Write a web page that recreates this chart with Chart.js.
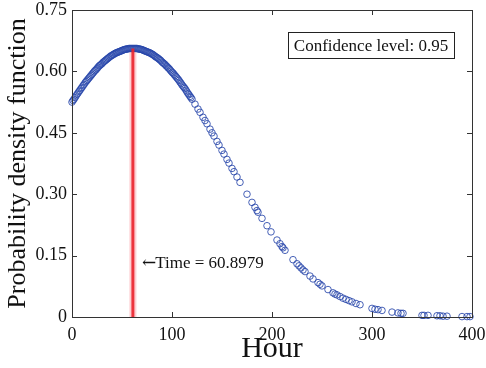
<!DOCTYPE html>
<html>
<head>
<meta charset="utf-8">
<script src="https://cdn.jsdelivr.net/npm/chart.js@4.4.0/dist/chart.umd.min.js"></script>
<style>
  html, body { margin: 0; padding: 0; background: #fff; }
  #wrap { width: 486px; height: 368px; }
</style>
</head>
<body>
<div id="wrap"><canvas id="pdf-chart" width="486" height="368"></canvas></div>
<script>
// Точки плотности вероятности (час, значение)
const hours = [
    0, 1, 2, 3, 4, 5, 6, 7, 8, 9, 10, 11, 12, 13, 14, 15, 16, 17, 18, 19,
    20, 21, 22, 23, 24, 25, 26, 27, 28, 29, 30, 31, 32, 33, 34, 35, 36, 37, 38, 39,
    40, 41, 42, 43, 44, 45, 46, 47, 48, 49, 50, 51, 52, 53, 54, 55, 56, 57, 58, 59,
    60, 61, 62, 63, 64, 65, 66, 67, 68, 69, 70, 71, 72, 73, 74, 75, 76, 77, 78, 79,
    80, 81, 82, 83, 84, 85, 86, 87, 88, 89, 90, 91, 92, 93, 94, 95, 96, 97, 98, 99,
    100, 101, 102, 103, 104, 105, 106, 107, 108, 109, 110, 111, 112, 113, 114, 115, 116, 117, 118, 119,
    120, 123, 126, 128, 131, 133, 135, 138, 140, 142, 145, 147, 150, 152, 155, 157, 160, 162, 165, 168,
    175, 180, 183, 185, 186, 190, 195, 199, 205, 208, 210, 211, 213, 221, 225, 227, 229, 231, 233, 238,
    241, 246, 248, 250, 256, 261, 263, 265, 268, 271, 274, 277, 280, 284, 288, 300, 303, 306, 310, 320,
    326, 329, 331, 350, 352, 356, 365, 368, 371, 375, 390, 395, 398
];
const density = [
    0.525, 0.529, 0.532, 0.536, 0.540, 0.544, 0.547, 0.551, 0.554, 0.558, 0.561, 0.565, 0.568, 0.572, 0.575, 0.578, 0.581, 0.584, 0.587, 0.590,
    0.593, 0.596, 0.599, 0.602, 0.604, 0.607, 0.610, 0.613, 0.615, 0.617, 0.619, 0.622, 0.624, 0.626, 0.628, 0.630, 0.632, 0.634, 0.636, 0.638,
    0.639, 0.641, 0.642, 0.644, 0.645, 0.646, 0.647, 0.648, 0.649, 0.650, 0.651, 0.652, 0.653, 0.654, 0.654, 0.655, 0.655, 0.656, 0.656, 0.656,
    0.656, 0.656, 0.656, 0.656, 0.656, 0.656, 0.655, 0.655, 0.654, 0.654, 0.653, 0.652, 0.651, 0.650, 0.649, 0.648, 0.647, 0.646, 0.645, 0.644,
    0.642, 0.641, 0.639, 0.637, 0.635, 0.634, 0.632, 0.630, 0.628, 0.626, 0.623, 0.621, 0.619, 0.617, 0.614, 0.612, 0.609, 0.607, 0.604, 0.601,
    0.598, 0.596, 0.593, 0.590, 0.587, 0.584, 0.581, 0.578, 0.574, 0.571, 0.567, 0.564, 0.561, 0.558, 0.554, 0.550, 0.546, 0.543, 0.539, 0.536,
    0.532, 0.520, 0.508, 0.500, 0.488, 0.480, 0.472, 0.459, 0.450, 0.442, 0.429, 0.420, 0.407, 0.398, 0.385, 0.376, 0.363, 0.355, 0.342, 0.329,
    0.300, 0.280, 0.268, 0.260, 0.256, 0.241, 0.223, 0.208, 0.188, 0.179, 0.172, 0.169, 0.163, 0.140, 0.130, 0.125, 0.120, 0.115, 0.111, 0.100,
    0.093, 0.084, 0.080, 0.076, 0.067, 0.059, 0.056, 0.054, 0.050, 0.046, 0.043, 0.040, 0.037, 0.033, 0.030, 0.021, 0.019, 0.018, 0.016, 0.012,
    0.010, 0.009, 0.009, 0.004, 0.004, 0.004, 0.003, 0.003, 0.002, 0.002, 0.001, 0.001, 0.001
];

// Вертикальная линия (мода)
const modeTime = 60.8979;
const modeLine = [0, 0.656];

// Подписи осей
const xTicks = [0, 100, 200, 300, 400];
const yTicks = [0, 0.15, 0.30, 0.45, 0.60, 0.75];
const yTickLabels = ['0', '0.15', '0.30', '0.45', '0.60', '0.75'];

const serif = '"Liberation Serif", "Times New Roman", serif';

// Рамка, внутренние засечки и подписи
const framePlugin = {
    id: 'frame',
    afterDraw(chart) {
        const ctx = chart.ctx;
        const area = chart.chartArea;
        const xs = chart.scales.x;
        const ys = chart.scales.y;
        ctx.save();
        ctx.strokeStyle = '#333';
        ctx.lineWidth = 1;
        ctx.strokeRect(area.left + 0.5, area.top + 0.5, area.right - area.left, area.bottom - area.top);

        ctx.beginPath();
        xTicks.forEach(v => {
            const px = Math.round(xs.getPixelForValue(v)) + 0.5;
            ctx.moveTo(px, area.bottom); ctx.lineTo(px, area.bottom - 5);
            ctx.moveTo(px, area.top); ctx.lineTo(px, area.top + 5);
        });
        yTicks.forEach(v => {
            const py = Math.round(ys.getPixelForValue(v)) + 0.5;
            ctx.moveTo(area.left, py); ctx.lineTo(area.left + 5, py);
            ctx.moveTo(area.right, py); ctx.lineTo(area.right - 5, py);
        });
        ctx.stroke();

        // Текст аннотации
        ctx.fillStyle = '#111';
        ctx.font = '17px ' + serif;
        ctx.textBaseline = 'middle';
        ctx.textAlign = 'left';
        const ax = xs.getPixelForValue(70);
        const ay = ys.getPixelForValue(0.131);
        ctx.font = '17px "DejaVu Serif", serif';
        ctx.fillText('\u2190', ax, ay);
        const aw = ctx.measureText('\u2190').width;
        ctx.font = '17px ' + serif;
        ctx.fillText('Time = ' + modeTime, ax + aw - 1, ay);

        // Рамка с уровнем доверия
        const bx = xs.getPixelForValue(216);
        const by = ys.getPixelForValue(0.696);
        const bw = 166, bh = 26;
        ctx.fillStyle = '#fff';
        ctx.fillRect(bx, by, bw, bh);
        ctx.strokeStyle = '#222';
        ctx.strokeRect(Math.round(bx) + 0.5, Math.round(by) + 0.5, bw, bh);
        ctx.fillStyle = '#111';
        ctx.textAlign = 'center';
        ctx.fillText('Confidence level: 0.95', bx + bw / 2, by + bh / 2 + 1);
        ctx.restore();
    }
};

new Chart(document.getElementById('pdf-chart'), {
    type: 'scatter',
    data: {
        datasets: [{
            type: 'line',
            data: modeLine.map(v => ({ x: modeTime, y: v })),
            borderColor: 'rgba(235, 35, 45, 0.9)',
            borderWidth: 3,
            pointRadius: 0,
            order: 0
        }, {
            type: 'line',
            data: modeLine.map(v => ({ x: modeTime, y: v })),
            borderColor: 'rgba(245, 120, 130, 0.35)',
            borderWidth: 7,
            pointRadius: 0,
            order: 2
        }, {
            data: hours.map((h, i) => ({ x: h, y: density[i] })),
            pointStyle: 'circle',
            pointRadius: 3.3,
            pointBorderWidth: 1,
            pointBackgroundColor: 'rgba(0,0,0,0)',
            pointBorderColor: 'rgba(40, 70, 170, 0.85)',
            clip: false,
            order: 1
        }]
    },
    options: {
        responsive: false,
        animation: false,
        layout: { padding: { top: 10, right: 14 } },
        plugins: {
            legend: { display: false },
            tooltip: { enabled: false }
        },
        scales: {
            x: {
                type: 'linear',
                min: 0,
                max: 400,
                afterFit: scale => {
                    scale.height = 51;
                    scale.paddingLeft = 0;
                    scale.paddingRight = 0;
                },
                afterBuildTicks: scale => { scale.ticks = xTicks.map(v => ({ value: v })); },
                grid: { display: false, drawTicks: false },
                border: { display: false },
                ticks: {
                    color: '#111',
                    padding: 7,
                    maxRotation: 0,
                    font: { family: serif, size: 18 },
                    callback: v => String(v)
                },
                title: {
                    display: true,
                    text: 'Hour',
                    color: '#111',
                    padding: { top: 0, bottom: 1 },
                    font: { family: serif, size: 30 }
                }
            },
            y: {
                type: 'linear',
                min: 0,
                max: 0.75,
                afterFit: scale => {
                    scale.width = 72;
                    scale.paddingTop = 0;
                    scale.paddingBottom = 0;
                },
                afterBuildTicks: scale => { scale.ticks = yTicks.map(v => ({ value: v })); },
                grid: { display: false, drawTicks: false },
                border: { display: false },
                ticks: {
                    color: '#111',
                    padding: 5,
                    font: { family: serif, size: 18 },
                    callback: v => yTickLabels[yTicks.findIndex(t => Math.abs(t - v) < 1e-9)]
                },
                title: {
                    display: true,
                    text: 'Probability density function',
                    color: '#111',
                    padding: { top: 3, bottom: 0 },
                    font: { family: serif, size: 26 }
                }
            }
        }
    },
    plugins: [framePlugin]
});
</script>
</body>
</html>
